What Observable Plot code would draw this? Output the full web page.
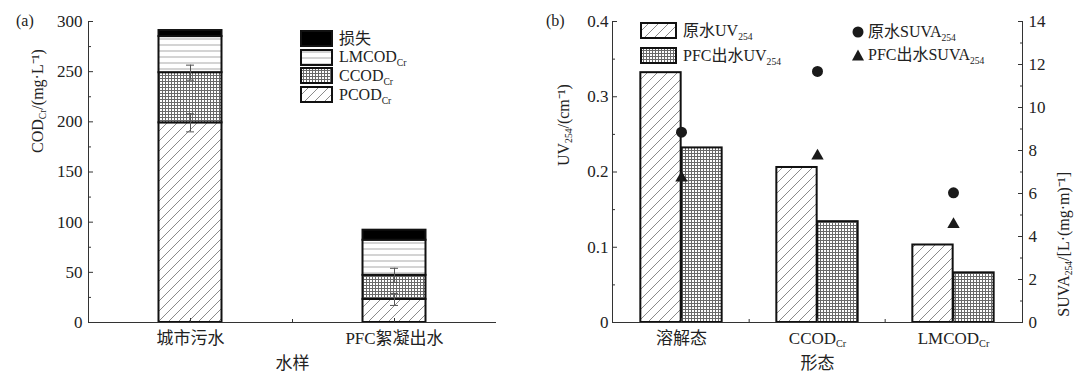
<!DOCTYPE html>
<html><head><meta charset="utf-8">
<script src="https://cdn.jsdelivr.net/npm/d3@7"></script>
<script src="https://cdn.jsdelivr.net/npm/@observablehq/plot@0.6"></script>
<style>
body{margin:0;background:#fff;}
#wrap{position:relative;width:1075px;height:376px;font-family:"Liberation Serif","Noto Sans CJK SC",serif;color:#222;overflow:hidden;}
.panel{position:absolute;top:0;}
.lab{position:absolute;font-size:16px;line-height:1;}
.row{position:absolute;display:flex;align-items:center;font-size:16px;line-height:1;white-space:nowrap;}
.row svg{display:block;margin-right:6px;}
sub{font-size:0.6em;vertical-align:-0.4em;line-height:0;}
</style></head><body>
<svg width="0" height="0" style="position:absolute">
 <defs>
  <pattern id="pHatch" patternUnits="userSpaceOnUse" width="10" height="10">
   <rect width="10" height="10" fill="#fff"/>
   <path d="M-2,12 L12,-2 M-7,7 L7,-7 M3,17 L17,3" stroke="#8a8a8a" stroke-width="1"/>
  </pattern>
  <pattern id="pGrid" patternUnits="userSpaceOnUse" width="3" height="3">
   <rect width="3" height="3" fill="#fff"/>
   <path d="M0.5,0 V3 M0,0.5 H3" stroke="#6a6a6a" stroke-width="1"/>
  </pattern>
  <pattern id="pLines" patternUnits="userSpaceOnUse" width="10" height="6">
   <rect width="10" height="6" fill="#fff"/>
   <path d="M0,3 H10" stroke="#aaa" stroke-width="1"/>
  </pattern>
 </defs>
</svg>
<div id="wrap"></div>
<script>
// ---------- data: panel (a) ----------
const samples = ["城市污水", "PFC絮凝出水"];
const components = ["PCOD_{Cr}", "CCOD_{Cr}", "LMCOD_{Cr}", "损失"];
const urbanCOD = [199, 50, 36, 6];
const pfcCOD = [23, 24, 35, 10];
const urbanErr = [9, 7.5];
const pfcErr = [6, 7];
const codTicks = [0, 50, 100, 150, 200, 250, 300];
const codMinor = [25, 75, 125, 175, 225, 275];
const titleAy = "COD_{Cr}/(mg·L⁻¹)";
const titleAx = "水样";

// ---------- data: panel (b) ----------
const forms = ["溶解态", "CCOD_{Cr}", "LMCOD_{Cr}"];
const uvRaw = [0.332, 0.206, 0.103];
const uvPFC = [0.232, 0.134, 0.066];
const suvaRaw = [8.85, 11.68, 6.03];
const suvaPFC = [6.73, 7.75, 4.56];
const uvTicks = [0, 0.1, 0.2, 0.3, 0.4];
const uvMinor = [0.05, 0.15, 0.25, 0.35];
const suvaTicks = [0, 2, 4, 6, 8, 10, 12, 14];
const suvaMinor = [1, 3, 5, 7, 9, 11, 13];
const uvMax = 0.4, suvaMax = 14;
const seriesB = ["原水UV_{254}", "PFC出水UV_{254}"];
const seriesSuva = ["原水SUVA_{254}", "PFC出水SUVA_{254}"];
const titleBy = "UV_{254}/(cm⁻¹)";
const titleBy2 = "SUVA_{254}/[L·(mg·m)⁻¹]";
const titleBx = "形态";

const fills = ["url(#pHatch)", "url(#pGrid)", "url(#pLines)", "#000"];
const H = 376;
const style = {fontFamily: '"Liberation Serif","Noto Sans CJK SC",serif', fontSize: "17px", color: "#222", background: "transparent", overflow: "visible"};
const svgNS = "http://www.w3.org/2000/svg";

function subify(root) {
  root.querySelectorAll("text").forEach(t => {
    const s = t.textContent;
    if (!s.includes("_{")) return;
    const parts = s.split(/_\{(.*?)\}/);
    while (t.firstChild) t.removeChild(t.firstChild);
    parts.forEach((p, i) => {
      if (!p) return;
      const ts = document.createElementNS(svgNS, "tspan");
      ts.textContent = p;
      if (i % 2 === 1) { ts.setAttribute("font-size", "0.6em"); ts.setAttribute("baseline-shift", "-30%"); }
      t.appendChild(ts);
    });
  });
}
const html = s => s.replace(/_\{(.*?)\}/g, "<sub>$1</sub>");
const numFmt = d => String(+d.toFixed(2));

// ---------- panel (a) ----------
const codRows = [];
[urbanCOD, pfcCOD].forEach((vals, i) => vals.forEach((v, j) => codRows.push({sample: samples[i], component: components[j], value: v})));
const errRows = [];
[[urbanCOD, urbanErr], [pfcCOD, pfcErr]].forEach(([vals, errs], i) => {
  let cum = 0;
  errs.forEach((e, j) => { cum += vals[j]; errRows.push({sample: samples[i], y: cum, e}); });
});
const WA = 520, mA = {l: 88, r: 24, t: 21, b: 54};
const bandA = (WA - mA.l - mA.r) / samples.length;
const insA = (bandA - 63) / 2, capA = (bandA - 8) / 2;
const plotHA = H - mA.t - mA.b;
const plotA = Plot.plot({
  width: WA, height: H, marginLeft: mA.l, marginRight: mA.r, marginTop: mA.t, marginBottom: mA.b,
  style,
  x: {domain: samples, padding: 0},
  y: {domain: [0, 300]},
  color: {domain: components, range: fills},
  marks: [
    Plot.barY(codRows, {x: "sample", y: "value", fill: "component", stroke: "#111", strokeWidth: 2, insetLeft: insA, insetRight: insA}),
    Plot.ruleX(errRows, {x: "sample", y1: d => d.y - d.e, y2: d => d.y + d.e, stroke: "#555"}),
    Plot.tickY(errRows, {x: "sample", y: d => d.y - d.e, stroke: "#555", insetLeft: capA, insetRight: capA}),
    Plot.tickY(errRows, {x: "sample", y: d => d.y + d.e, stroke: "#555", insetLeft: capA, insetRight: capA}),
    Plot.ruleY([0], {stroke: "#333"}),
    Plot.frame({anchor: "left", stroke: "#333"}),
    Plot.axisY({ticks: codTicks, tickSize: -5, tickPadding: 11, label: null, stroke: "#333"}),
    Plot.axisY({ticks: codMinor, tickSize: -3, tickFormat: () => "", label: null, stroke: "#333"}),
    Plot.axisX({tickSize: -4, tickPadding: 13, label: null, stroke: "#333"}),
    Plot.tickX(samples.slice(1), {x: d => d, dx: -bandA / 2, insetTop: plotHA - 3, stroke: "#333"}),
    Plot.text([titleAy], {text: d => d, frameAnchor: "left", rotate: -90, dx: -51, dy: -19, fontSize: 16}),
    Plot.text([titleAx], {text: d => d, frameAnchor: "bottom", dy: 46, fontSize: 17})
  ]
});
plotA.classList.add("panel"); plotA.style.left = "0px";

// ---------- panel (b) ----------
const WB = 555, mB = {l: 92, r: 53, t: 21, b: 54};
const bandB = (WB - mB.l - mB.r) / forms.length;
const barWB = 41;
const plotHB = H - mB.t - mB.b;
const k = uvMax / suvaMax;
const uvRows = forms.flatMap((f, i) => [{form: f, s: seriesB[0], uv: uvRaw[i]}, {form: f, s: seriesB[1], uv: uvPFC[i]}]);
const suvaRows = forms.flatMap((f, i) => [{form: f, s: seriesSuva[0], v: suvaRaw[i]}, {form: f, s: seriesSuva[1], v: suvaPFC[i]}]);
const plotB = Plot.plot({
  width: WB, height: H, marginLeft: mB.l, marginRight: mB.r, marginTop: mB.t, marginBottom: mB.b,
  style,
  x: {domain: forms, padding: 0},
  y: {domain: [0, uvMax]},
  color: {domain: seriesB, range: fills.slice(0, 2)},
  marks: [
    Plot.barY(uvRows.filter(d => d.s === seriesB[0]), {x: "form", y: "uv", fill: "s", stroke: "#111", strokeWidth: 2, insetLeft: bandB / 2 - barWB, insetRight: bandB / 2}),
    Plot.barY(uvRows.filter(d => d.s === seriesB[1]), {x: "form", y: "uv", fill: "s", stroke: "#111", strokeWidth: 2, insetLeft: bandB / 2, insetRight: bandB / 2 - barWB}),
    Plot.dot(suvaRows.filter(d => d.s === seriesSuva[0]), {x: "form", y: d => d.v * k, symbol: "circle", r: 5.5, fill: "#1a1a1a"}),
    Plot.dot(suvaRows.filter(d => d.s === seriesSuva[1]), {x: "form", y: d => d.v * k, symbol: "triangle", r: 4.6, fill: "#1a1a1a"}),
    Plot.ruleY([0], {stroke: "#333"}),
    Plot.frame({anchor: "left", stroke: "#333"}),
    Plot.frame({anchor: "right", stroke: "#333"}),
    Plot.axisY({ticks: uvTicks, tickFormat: numFmt, tickSize: -5, tickPadding: 9, label: null, stroke: "#333"}),
    Plot.axisY({ticks: uvMinor, tickSize: -3, tickFormat: () => "", label: null, stroke: "#333"}),
    Plot.axisY({anchor: "right", ticks: suvaTicks.map(t => t * k), tickFormat: d => String(Math.round(d / k)), tickSize: -5, tickPadding: 11, label: null, stroke: "#333"}),
    Plot.axisY({anchor: "right", ticks: suvaMinor.map(t => t * k), tickFormat: () => "", tickSize: -3, label: null, stroke: "#333"}),
    Plot.axisX({tickSize: -4, tickPadding: 13, label: null, stroke: "#333"}),
    Plot.tickX(forms.slice(1), {x: d => d, dx: -bandB / 2, insetTop: plotHB - 3, stroke: "#333"}),
    Plot.text([titleBy], {text: d => d, frameAnchor: "left", rotate: -90, dx: -49, dy: -6, fontSize: 16}),
    Plot.text([titleBy2], {text: d => d, frameAnchor: "right", rotate: -90, dx: 41, dy: 0, fontSize: 16}),
    Plot.text([titleBx], {text: d => d, frameAnchor: "bottom", dy: 46, fontSize: 17})
  ]
});
plotB.classList.add("panel"); plotB.style.left = "520px";

const wrap = document.getElementById("wrap");
wrap.appendChild(plotA); wrap.appendChild(plotB);
subify(plotA); subify(plotB);

// ---------- panel labels ----------
[["(a)", 16], ["(b)", 546]].forEach(([t, x]) => {
  const d = document.createElement("div"); d.className = "lab"; d.textContent = t;
  d.style.left = x + "px"; d.style.top = "13px"; wrap.appendChild(d);
});

// ---------- legends ----------
function swatch(w, h, fill) {
  return `<svg width="${w}" height="${h}"><rect x="1" y="1" width="${w - 2}" height="${h - 2}" fill="${fill}" stroke="#111" stroke-width="2"/></svg>`;
}
function addRow(left, top, inner) {
  const d = document.createElement("div"); d.className = "row";
  d.style.left = left + "px"; d.style.top = top + "px"; d.innerHTML = inner; wrap.appendChild(d);
}
const orderA = components.map((c, i) => [c, fills[i]]).reverse();
orderA.forEach(([c, f], i) => addRow(300, 30 + i * 18.7, swatch(33, 17, f) + `<span>${html(c)}</span>`));
seriesB.forEach((s, i) => addRow(640, 22 + i * 25, swatch(37, 17, fills[i]) + `<span>${html(s)}</span>`));
const sym = [`<svg width="14" height="14"><circle cx="7" cy="7" r="5.5" fill="#1a1a1a"/></svg>`,
             `<svg width="14" height="14"><path d="M7,1.5 L13,12.5 L1,12.5 Z" fill="#1a1a1a"/></svg>`];
seriesSuva.forEach((s, i) => addRow(851, 24 + i * 23, sym[i].replace("<svg", "<svg style='margin-right:3px'") + `<span>${html(s)}</span>`));
</script>
</body></html>
